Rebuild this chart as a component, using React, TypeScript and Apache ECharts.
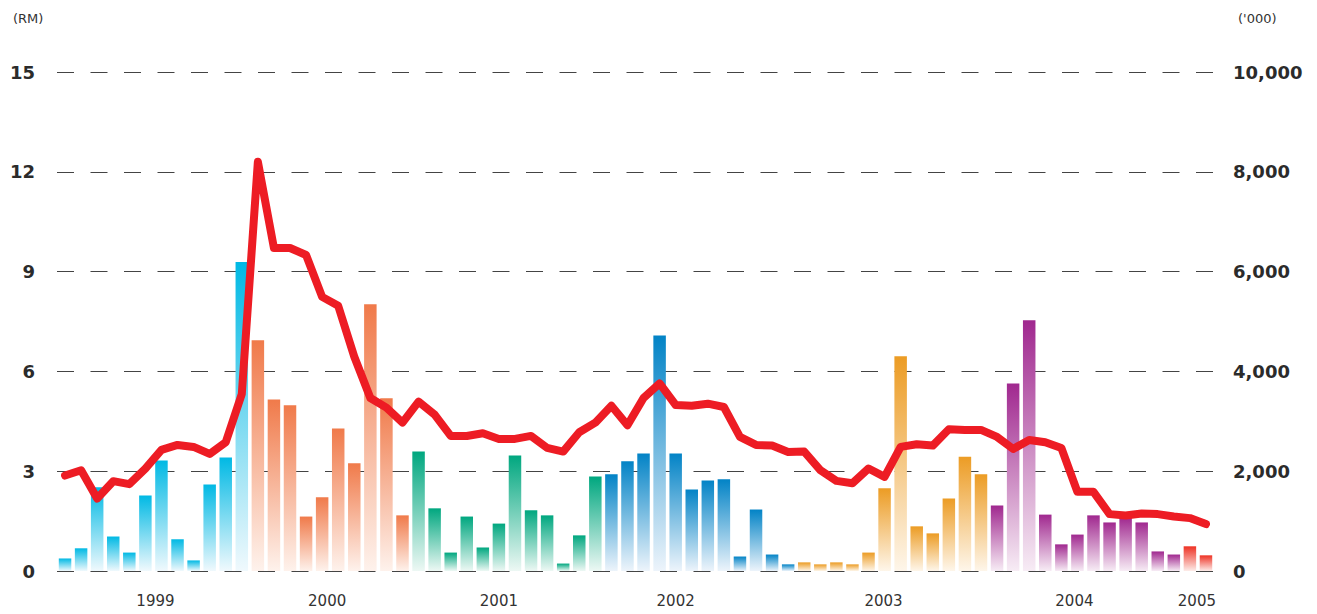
import React, { useEffect, useRef } from "react";
import * as echarts from "echarts";

// Monthly periods (72 bars)
const periods: string[] = Array.from({ length: 72 }, (_, i) => `M${i + 1}`);

// Year tick labels and the period index each is placed under
const yearLabels = ["1999", "2000", "2001", "2002", "2003", "2004", "2005"];
const yearIndex = [6, 16, 27, 38, 51, 63, 70];
const yearShift = [-6, 5, 0, 0, -1, -3, 7];

// Trading volume ('000) per month
const volume = [
  251, 455, 1680, 691, 369, 1515, 2214, 636, 212, 1735, 2276, 6193,
  4623, 3438, 3320, 1091, 1476, 2857, 2159, 5345, 3461, 1115,
  2394, 1256, 369, 1091, 471, 950, 2316, 1217, 1115, 149, 714, 1892,
  1939, 2198, 2355, 4718, 2355, 1633, 1813, 1837, 290, 1232, 330, 133,
  173, 133, 173, 133, 369, 1656, 4302, 895, 754, 1452, 2292, 1939,
  1311, 3760, 5024, 1130, 534, 730, 1115, 973, 1075, 973, 392, 330,
  495, 314,
];

// Share price (RM) per month
const price = [
  2.87, 3.03, 2.18, 2.7, 2.61, 3.08, 3.64, 3.79, 3.73, 3.52, 3.87, 5.32,
  12.3, 9.71, 9.71, 9.5, 8.24, 7.97, 6.44, 5.2, 4.91, 4.46,
  5.09, 4.7, 4.06, 4.06, 4.14, 3.97, 3.97, 4.06, 3.7, 3.59, 4.17, 4.46,
  4.97, 4.38, 5.2, 5.64, 4.99, 4.97, 5.03, 4.93, 4.03, 3.79, 3.77, 3.58,
  3.59, 3.03, 2.71, 2.64, 3.08, 2.83, 3.73, 3.81, 3.77, 4.26, 4.24, 4.24,
  4.03, 3.67, 3.94, 3.87, 3.7, 2.38, 2.38, 1.71, 1.67, 1.73, 1.71, 1.64,
  1.59, 1.41,
];

// Bar colour groups (top colour, faded base colour) and their sizes
const groupTop = ["#00b9e4", "#f07a4a", "#00a77f", "#0283c6", "#ec9c24", "#a0288f", "#ee3224"];
const groupBase = ["#f0f9fd", "#fef2ec", "#edf8f4", "#edf4fb", "#fef6ea", "#f7ecf5", "#fdece9"];
const groupSize = [12, 10, 12, 12, 12, 12, 2];

export default function App() {
  const ref = useRef<HTMLDivElement>(null);

  useEffect(() => {
    if (!ref.current) return;
    const chart = echarts.init(ref.current, undefined, { renderer: "svg" });

    const groupOf: number[] = [];
    groupSize.forEach((n, g) => {
      for (let k = 0; k < n; k++) groupOf.push(g);
    });

    const barData = volume.map((v, i) => {
      const g = groupOf[i];
      return {
        value: v,
        itemStyle: {
          color: new echarts.graphic.LinearGradient(0, 0, 0, 1, [
            { offset: 0, color: groupTop[g] },
            { offset: 1, color: groupBase[g] },
          ]),
        },
      };
    });

    const font = "DejaVu Sans";

    chart.setOption({
      animation: false,
      backgroundColor: "#ffffff",
      grid: { left: 57, right: 103, top: 72, bottom: 43, containLabel: false },
      graphic: [
        {
          type: "text",
          left: 13,
          top: 12,
          style: { text: "(RM)", fontFamily: font, fontSize: 13, fill: "#333" },
        },
        {
          type: "text",
          left: 1238,
          top: 12,
          style: { text: "('000)", fontFamily: font, fontSize: 13, fill: "#333" },
        },
      ],
      xAxis: {
        type: "category",
        data: periods,
        boundaryGap: true,
        axisLine: { show: false },
        axisTick: { show: false },
        splitLine: { show: false },
        axisLabel: {
          interval: (index: number) => yearIndex.includes(index),
          margin: 22,
          fontFamily: font,
          fontSize: 15,
          color: "#333",
          formatter: (_v: string, index: number) => {
            const k = yearIndex.indexOf(index);
            if (k < 0) return "";
            return `{y${k}|${yearLabels[k]}}`;
          },
          rich: Object.fromEntries(
            yearShift.map((s, k) => [
              `y${k}`,
              {
                fontFamily: font,
                fontSize: 15,
                color: "#333",
                padding: s >= 0 ? [0, 0, 0, 2 * s] : [0, -2 * s, 0, 0],
              },
            ])
          ),
        },
      },
      yAxis: [
        {
          type: "value",
          min: 0,
          max: 15,
          interval: 3,
          position: "left",
          axisLine: { show: false },
          axisTick: { show: false },
          axisLabel: {
            margin: 22,
            fontFamily: font,
            fontSize: 18,
            fontWeight: "bold",
            color: "#2b2b2b",
          },
          splitLine: {
            show: true,
            lineStyle: { color: "#444", width: 1, type: [17, 16.5] },
          },
        },
        {
          type: "value",
          min: 0,
          max: 10000,
          interval: 2000,
          position: "right",
          axisLine: { show: false },
          axisTick: { show: false },
          axisLabel: {
            margin: 19,
            fontFamily: font,
            fontSize: 18,
            fontWeight: "bold",
            color: "#2b2b2b",
            formatter: (v: number) => v.toLocaleString("en-US"),
          },
          splitLine: { show: false },
        },
      ],
      series: [
        {
          type: "bar",
          yAxisIndex: 1,
          data: barData,
          barWidth: 12.5,
          z: 2,
        },
        {
          type: "line",
          yAxisIndex: 0,
          data: price,
          symbol: "none",
          z: 3,
          lineStyle: { color: "#ed1c24", width: 8, cap: "round", join: "round" },
        },
      ],
    });

    return () => chart.dispose();
  }, []);

  return (
    <div
      ref={ref}
      style={{ position: "fixed", left: 0, top: 0, width: 1317, height: 614 }}
    />
  );
}
